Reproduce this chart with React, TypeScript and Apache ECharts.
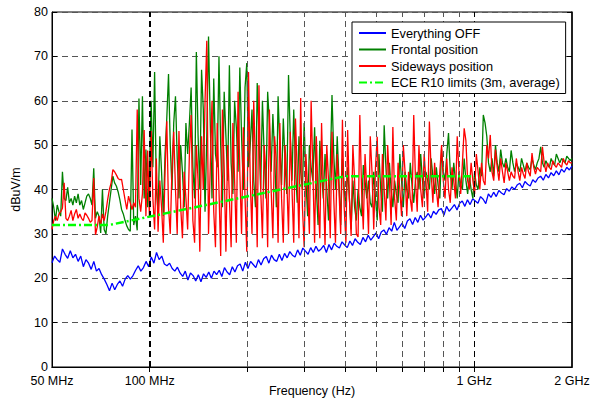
import React, { useEffect, useRef } from "react";
import * as echarts from "echarts";

// Sampling grids of the sweeps (MHz), log-spaced from 50 MHz to 2 GHz
const logGrid = (n: number) => Array.from({ length: n }, (_, i) => 50 * Math.pow(40, i / (n - 1)));
const FREQ_OFF_MHZ: number[] = logGrid(200);
const FREQ_ON_MHZ: number[] = logGrid(300);

const X_LABEL_VALUES = [50, 100, 1000, 2000];
const X_LABEL_TEXT: Record<number, string> = { 50: "50 MHz", 100: "100 MHz", 1000: "1 GHz", 2000: "2 GHz" };
const X_GRID_VALUES = [100, 200, 300, 400, 500, 600, 700, 800, 900, 1000];

const EVERYTHING_OFF = [
  23.5, 25, 24.2, 23.6, 26.6, 25.4, 24.5, 26.2, 24.6, 25.4,
  23.8, 25, 22.6, 24.2, 23.4, 22, 23.8, 21.6, 22.2, 20.8,
  19.8, 18.6, 17.2, 18.9, 17.4, 18.6, 19.4, 18.2, 19.8, 20.6,
  19.8, 20.6, 21.8, 22.8, 21.6, 22.4, 23.8, 22.6, 24.8, 23.4,
  25.8, 24.2, 25, 23.2, 22.8, 23.4, 22.2, 21.6, 22.5, 21.2,
  20.4, 21.6, 19.6, 21.2, 20.6, 19.4, 20.8, 19.2, 21, 20.2,
  21.4, 20, 21.6, 20.8, 21.8, 20.4, 22.4, 21.4, 20.8, 22.6,
  21.4, 22.8, 23.2, 21.6, 23.6, 22.2, 23.8, 23.1, 22.4, 24.2,
  23, 24.4, 24.9, 23.4, 25.2, 24.2, 23.8, 25.4, 24, 25.6,
  24.6, 26, 25.2, 24.8, 26.4, 25.2, 26.8, 26.1, 25.4, 26.9,
  25.8, 27.2, 26.1, 26.6, 27.4, 25.8, 27.6, 26.4, 27.9, 27.2,
  26.8, 28.2, 27.5, 26.9, 28.4, 27.4, 28.9, 28.1, 27.6, 29.2,
  28.2, 29.7, 28.6, 29.4, 30.2, 28.9, 30.4, 30.9, 29.9, 31.4,
  30.6, 32.6, 30.8, 31.6, 32.4, 31.2, 32.9, 33.4, 32.1, 33.7,
  32.6, 34.2, 33.1, 33.8, 34.6, 33.6, 35.1, 34.4, 35.4, 35.7,
  34.2, 36.2, 35.1, 35.8, 36.6, 35.4, 36.9, 37.4, 36.2, 37.7,
  36.6, 37.9, 37.4, 36.9, 38.4, 37.8, 36.8, 39, 38.2, 39.4,
  38.4, 39.8, 39.2, 38.8, 40.2, 39.6, 40.6, 40, 41, 41.4,
  40.4, 41.8, 41.2, 40.8, 42.2, 41.6, 42.6, 43, 42.1, 43.4,
  42.6, 43.8, 43.1, 44.2, 43.3, 44.6, 43.9, 45, 44.4, 45.3,
];

const FRONTAL = [
  38, 36, 33, 36.5, 35, 34, 44, 38, 37.5, 40.5,
  37, 38, 36.5, 38.5, 37, 39, 36.5, 37.5, 35.5, 37,
  38.5, 39, 38, 36.5, 44.8, 33.5, 35, 34, 30.2, 40,
  31, 30, 34, 37, 40, 43, 41.5, 40.8, 39.5, 37.7,
  35.5, 34.5, 33, 31.8, 31, 30.6, 53.5, 32, 34, 30.8,
  60.5, 41, 61, 38, 49, 36, 42, 60, 45, 66.5,
  40, 35, 52, 44, 34, 48, 56, 66, 50, 40,
  55, 61, 47, 38, 50, 44, 36, 55, 48, 55,
  63, 45, 38, 71, 52, 40, 67, 58, 35, 52,
  74.5, 55, 38, 65, 48, 45, 70, 50, 36, 62,
  52, 42, 68, 46, 39, 60, 54, 44, 67.5, 52,
  40, 63, 68.5, 45, 50, 58, 42, 36, 64, 52,
  40, 60, 48, 38, 62, 55, 44, 57, 48, 36,
  61, 50, 41, 56, 46, 39, 65.8, 52, 42, 58,
  45, 37, 52, 44, 40, 55, 42, 34, 50, 45,
  42, 54, 40, 32, 51, 44, 38, 48, 40, 33,
  45, 61.3, 48, 40, 52, 42, 32, 47, 40, 36,
  45, 38, 31, 42, 36, 33, 40, 36, 34, 45.5,
  42, 38, 42, 37, 36, 44, 38, 33, 48, 40,
  35, 54.5, 45, 38, 46, 40, 36, 42, 39, 37,
  48, 42, 36, 44, 40, 38, 46, 41, 37, 42,
  44, 40, 48, 42, 38, 44, 42, 40, 47, 43,
  39, 45, 41, 38, 49, 44, 42, 48, 52.7, 44,
  40, 46, 42, 38, 44, 41, 40, 47, 42, 39,
  43, 40, 38, 44, 41, 40, 45, 43, 56.8, 55,
  52, 46, 44, 47, 43, 50, 46, 44, 49, 46,
  45, 47, 45, 44, 48.8, 46, 44, 46, 45, 44,
  47, 45.5, 44, 46, 45, 44.5, 47, 45.5, 44.5, 46,
  47, 49.6, 46, 45, 46.5, 45.5, 45, 47, 46, 45.5,
  48, 47, 46, 47, 46.5, 46, 47.5, 47, 46.5, 47,
];

const SIDEWAYS = [
  31, 33, 34, 33, 34.5, 35, 35.8, 41.5, 33.5, 33,
  34, 35.3, 33, 34.5, 35.5, 33.5, 34.5, 33.5, 33, 34.7,
  34.2, 33.5, 32.6, 33, 42.6, 29.8, 31.5, 34, 32, 34.5,
  33, 35, 37.7, 40, 41.5, 44.5, 44, 43.3, 42.5, 42.2,
  42.3, 40, 37.7, 35.5, 38.5, 37, 35.5, 37, 36, 58,
  38, 35, 39, 53.4, 34, 48.8, 34, 53.2, 38, 31,
  47, 30.5, 42, 36, 28, 44, 55.4, 36, 30, 45,
  53, 40, 30, 53.2, 36, 29, 44, 38, 31, 48,
  56.8, 33, 28, 50, 42, 26, 52, 40, 60, 73.5,
  30, 45, 60, 35, 27, 55, 40, 25, 58, 45,
  26, 50, 38, 27, 55, 42, 28, 62, 44, 30,
  54, 38, 26, 66.5, 42, 30, 60, 45, 27, 63.5,
  40, 29, 50, 44, 27, 58, 40, 29, 52, 46,
  28, 55, 38, 28, 50, 42, 30, 53, 40, 28,
  56, 44, 29, 60.6, 36, 27, 48, 40, 30, 60,
  44, 28, 52, 38, 29, 55, 40, 27.5, 50, 42,
  29, 53, 38, 28, 48, 40, 30, 55.7, 36, 28,
  53.4, 38, 29.5, 50, 42, 30, 29.3, 56.8, 40, 31,
  48, 40, 30, 52, 44, 31, 45, 51.9, 36, 32,
  48, 40, 33, 50, 42, 32, 54.1, 38, 33, 46,
  40, 34, 50, 44, 34, 44, 38, 35, 56.8, 42,
  35, 50, 40, 36, 48, 42, 35, 55.3, 44, 37,
  46, 40, 36, 44, 50, 42, 38, 47, 40, 37,
  45, 42, 38, 52, 44, 39, 46, 53.8, 51, 42,
  40, 46, 42, 39, 48, 44, 40, 46, 42, 41,
  50, 47, 52.3, 44, 42, 49, 45, 42, 47, 44,
  41.5, 46, 44, 42, 44, 43, 42.5, 47, 44, 42,
  45, 43.5, 42.5, 46, 44, 43, 48.2, 45, 43.5, 45,
  44.5, 44, 49.6, 46, 44, 46, 45, 44.5, 46.5, 45.5,
  45, 46, 45.5, 45, 47, 46, 45.5, 46.5, 46, 46,
];

const LIMIT_FREQ_MHZ = [50, 75, 400, 1000];
const LIMIT_VALUES = [32, 32, 43, 43];

const Y_MIN = 0;
const Y_MAX = 80;
const Y_STEP = 10;

const pair = (vals: number[], freqs: number[]) => vals.map((v, i) => [freqs[i], v]);

const FONT = 'Arial, "Liberation Sans", Helvetica, sans-serif';

export default function App() {
  const ref = useRef<HTMLDivElement>(null);
  useEffect(() => {
    if (!ref.current) return;
    const chart = echarts.init(ref.current, null, { renderer: "svg" });
    const fmt = (value: number) => {
      const v = Math.round(value);
      return X_LABEL_TEXT[v] ?? "";
    };
    const option: any = {
      animation: false,
      backgroundColor: "#fff",
      textStyle: { fontFamily: FONT },
      grid: {
        left: 52,
        right: 28,
        top: 12,
        bottom: 35,
        containLabel: false,
        outerBoundsMode: "none",
        show: true,
        borderColor: "#000",
        borderWidth: 1,
        backgroundColor: "transparent",
      },
      legend: {
        z: 20,
        orient: "vertical",
        left: 352,
        top: 22,
        padding: [4, 6, 4, 6],
        itemWidth: 27,
        itemHeight: 10,
        itemGap: 2.5,
        borderColor: "#000",
        borderWidth: 1,
        borderRadius: 0,
        backgroundColor: "#fff",
        itemStyle: { opacity: 0 },
        textStyle: { fontSize: 12.75, color: "#000", fontFamily: FONT, lineHeight: 14 },
        data: ["Everything OFF", "Frontal position", "Sideways position", "ECE R10 limits (3m, average)"],
      },
      xAxis: [
        {
          type: "log",
          logBase: 10,
          min: 50,
          max: 2000,
          name: "Frequency (Hz)",
          nameLocation: "middle",
          nameMoveOverlap: false,
          nameGap: 17,
          nameTextStyle: { fontSize: 12.5, color: "#000", fontFamily: FONT, verticalAlign: "top" },
          axisLine: { show: true, lineStyle: { color: "#000", width: 1 } },
          axisTick: { show: true, inside: true, length: 5, customValues: X_GRID_VALUES, lineStyle: { color: "#000" } },
          axisLabel: { customValues: X_LABEL_VALUES, formatter: fmt, color: "#000", fontSize: 12.5, lineHeight: 12, margin: 8, fontFamily: FONT },
          splitLine: { show: false },
          minorTick: { show: false },
        },
        {
          type: "log",
          logBase: 10,
          min: 50,
          max: 2000,
          position: "top",
          axisLine: { show: true, lineStyle: { color: "#000", width: 1 } },
          axisTick: { show: true, inside: true, length: 5, customValues: X_GRID_VALUES, lineStyle: { color: "#000" } },
          axisLabel: { show: false },
          splitLine: { show: false },
        },
      ],
      yAxis: [
        {
          type: "value",
          min: Y_MIN,
          max: Y_MAX,
          interval: Y_STEP,
          name: "dBuV/m",
          nameLocation: "middle",
          nameMoveOverlap: false,
          nameGap: 30,
          nameRotate: 90,
          nameTextStyle: { fontSize: 12.5, color: "#000", fontFamily: FONT },
          axisLine: { show: true, lineStyle: { color: "#000", width: 1 } },
          axisTick: { show: true, inside: true, length: 5, lineStyle: { color: "#000" } },
          axisLabel: { color: "#000", fontSize: 12.5, lineHeight: 12, margin: 4, fontFamily: FONT },
          splitLine: { show: true, lineStyle: { color: "#555", width: 1, type: [6, 4] } },
        },
        {
          type: "value",
          min: Y_MIN,
          max: Y_MAX,
          interval: Y_STEP,
          position: "right",
          axisLine: { show: true, lineStyle: { color: "#000", width: 1.5 } },
          axisTick: { show: true, inside: true, length: 5, lineStyle: { color: "#000" } },
          axisLabel: { show: false },
          splitLine: { show: false },
        },
      ],
      series: [
        {
          type: "line",
          z: 1,
          data: [],
          silent: true,
          markLine: {
            silent: true,
            symbol: "none",
            label: { show: false },
            animation: false,
            data: X_GRID_VALUES.map((v) => ({
              xAxis: v,
              lineStyle: {
                color: v === 100 || v === 1000 ? "#000" : "#555",
                width: v === 100 ? 2 : 1,
                type: [6, 4],
              },
            })),
          },
        },
        {
          name: "Everything OFF",
          type: "line",
          z: 2,
          data: pair(EVERYTHING_OFF, FREQ_OFF_MHZ),
          symbol: "none",
          lineStyle: { color: "#0000ff", width: 1.3 },
          itemStyle: { color: "#0000ff" },
        },
        {
          name: "Frontal position",
          type: "line",
          z: 3,
          data: pair(FRONTAL, FREQ_ON_MHZ),
          symbol: "none",
          lineStyle: { color: "#008000", width: 1.3 },
          itemStyle: { color: "#008000" },
        },
        {
          name: "Sideways position",
          type: "line",
          z: 4,
          data: pair(SIDEWAYS, FREQ_ON_MHZ),
          symbol: "none",
          lineStyle: { color: "#ff0000", width: 1.3 },
          itemStyle: { color: "#ff0000" },
        },
        {
          name: "ECE R10 limits (3m, average)",
          type: "line",
          z: 5,
          data: pair(LIMIT_VALUES, LIMIT_FREQ_MHZ),
          symbol: "none",
          lineStyle: { color: "#00ff00", width: 2.5, type: [8, 3, 2, 3] },
          itemStyle: { color: "#00ff00" },
        },
      ],
    };
    chart.setOption(option);
    return () => chart.dispose();
  }, []);
  return <div ref={ref} style={{ width: 600, height: 402, position: "absolute", left: 0, top: 0 }} />;
}
